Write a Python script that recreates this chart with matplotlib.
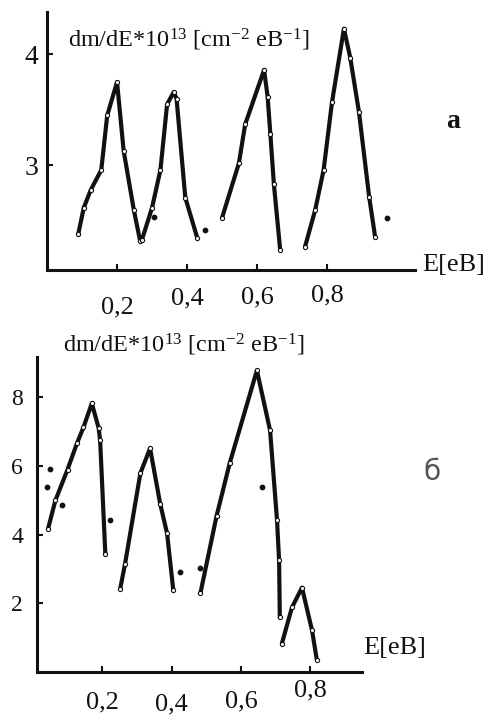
import matplotlib
matplotlib.use("Agg")
import matplotlib.pyplot as plt
import matplotlib.transforms as mtransforms

plt.rcParams['font.family'] = ['Liberation Serif', 'DejaVu Serif']
plt.rcParams['mathtext.fontset'] = 'custom'
plt.rcParams['mathtext.rm'] = 'Liberation Serif'
plt.rcParams['mathtext.it'] = 'Liberation Serif:italic'

# ---------------- data: panel a ----------------
a1_x = [0.089, 0.105, 0.125, 0.155, 0.172, 0.200, 0.219, 0.248, 0.266]
a1_y = [2.38, 2.62, 2.78, 2.96, 3.45, 3.75, 3.13, 2.60, 2.32]
a2_x = [0.271, 0.300, 0.324, 0.343, 0.362, 0.370, 0.395, 0.429]
a2_y = [2.33, 2.62, 2.96, 3.55, 3.66, 3.60, 2.71, 2.35]
a3_x = [0.500, 0.548, 0.566, 0.620, 0.630, 0.638, 0.648, 0.666]
a3_y = [2.53, 3.02, 3.37, 3.86, 3.62, 3.28, 2.83, 2.24]
a4_x = [0.737, 0.766, 0.790, 0.814, 0.848, 0.866, 0.891, 0.920, 0.937]
a4_y = [2.27, 2.60, 2.96, 3.57, 4.23, 3.97, 3.48, 2.72, 2.36]
a_extra_x = [0.305, 0.452, 0.971]
a_extra_y = [2.54, 2.42, 2.53]

# ---------------- data: panel б ----------------
b1_x = [0.044, 0.065, 0.100, 0.127, 0.146, 0.170, 0.190, 0.194, 0.209]
b1_y = [4.18, 5.00, 5.90, 6.66, 7.13, 7.83, 7.10, 6.75, 3.45]
b2_x = [0.252, 0.266, 0.310, 0.338, 0.367, 0.387, 0.405]
b2_y = [2.43, 3.16, 5.79, 6.52, 4.91, 4.04, 2.38]
b3_x = [0.483, 0.530, 0.568, 0.646, 0.684, 0.704, 0.710, 0.712]
b3_y = [2.29, 4.56, 6.10, 8.79, 7.04, 4.42, 3.25, 1.59]
b4_x = [0.718, 0.747, 0.776, 0.805, 0.819]
b4_y = [0.83, 1.88, 2.46, 1.21, 0.34]
b_extra_x = [0.040, 0.050, 0.084, 0.223, 0.425, 0.483, 0.661]
b_extra_y = [5.38, 5.93, 4.86, 4.42, 2.90, 3.02, 5.38]

xtick_vals = [0.2, 0.4, 0.6, 0.8]
xtick_labels = ["0,2", "0,4", "0,6", "0,8"]
a_ytick_vals = [3, 4]
a_ytick_labels = ["3", "4"]
b_ytick_vals = [2, 4, 6, 8]
b_ytick_labels = ["2", "4", "6", "8"]
ylabel_text = r"dm/dE*10$^{\mathrm{13}}$ [cm$^{\mathrm{-2}}$ eB$^{\mathrm{-1}}$]"

W, H = 490, 715
fig = plt.figure(figsize=(W / 100, H / 100), dpi=100)


def px_axes(left, right, top, bottom):
    return fig.add_axes([left / W, 1 - bottom / H, (right - left) / W, (bottom - top) / H])


def style(ax):
    for s in ['top', 'right']:
        ax.spines[s].set_visible(False)
    for s in ['left', 'bottom']:
        ax.spines[s].set_linewidth(2.2)
        ax.spines[s].set_color('#111111')
    ax.tick_params(direction='in', length=4, width=1.5, colors='#111111',
                   labelsize=17, pad=6)
    ax.patch.set_alpha(0)


line_kw = dict(color='#111111', lw=3.0, marker='o', ms=3.0,
               mfc='white', mec='#111111', mew=0.8, solid_capstyle='round')
extra_kw = dict(color='#111111', s=10, zorder=3)

# ---------------- panel a ----------------
axa = px_axes(47, 415, 12, 270)
style(axa)
axa.set_xlim(0, 1.051)
axa.set_ylim(2.06, 4.38)
for xs, ys in [(a1_x, a1_y), (a2_x, a2_y), (a3_x, a3_y), (a4_x, a4_y)]:
    axa.plot(xs, ys, **line_kw)
axa.scatter(a_extra_x, a_extra_y, **extra_kw)
axa.set_xticks(xtick_vals)
axa.set_xticklabels([])
axa.set_yticks(a_ytick_vals)
axa.set_yticklabels(a_ytick_labels, fontsize=20)
trans_a = mtransforms.blended_transform_factory(axa.transData, axa.transAxes)
a_lab_dy = [-0.145, -0.11, -0.105, -0.10]
for v, lab, dy in zip(xtick_vals, xtick_labels, a_lab_dy):
    axa.text(v, dy, lab, transform=trans_a, ha='center', va='center',
             fontsize=19, color='#111111')
fig.text(68 / W, 1 - 40 / H, ylabel_text, fontsize=17.5, ha='left', va='center',
         color='#111111')
fig.text(453 / W, 1 - 122 / H, "a", fontsize=20, fontweight='bold',
         ha='center', va='center', color='#111111')
fig.text(454 / W, 1 - 265 / H, "E[eB]", fontsize=19, ha='center', va='center',
         color='#111111')

# ---------------- panel б ----------------
axb = px_axes(37, 362, 357, 672)
style(axb)
axb.set_xlim(0.012, 0.949)
axb.set_ylim(0, 9.18)
for xs, ys in [(b1_x, b1_y), (b2_x, b2_y), (b3_x, b3_y), (b4_x, b4_y)]:
    axb.plot(xs, ys, **line_kw)
axb.scatter(b_extra_x, b_extra_y, **extra_kw)
axb.set_xticks(xtick_vals)
axb.set_xticklabels([])
axb.set_yticks(b_ytick_vals)
axb.set_yticklabels(b_ytick_labels, fontsize=17)
axb.tick_params(axis='y', pad=10)
trans_b = mtransforms.blended_transform_factory(axb.transData, axb.transAxes)
b_lab_dy = [-0.098, -0.104, -0.093, -0.058]
for v, lab, dy in zip(xtick_vals, xtick_labels, b_lab_dy):
    axb.text(v, dy, lab, transform=trans_b, ha='center', va='center',
             fontsize=19, color='#111111')
fig.text(63 / W, 1 - 345 / H, ylabel_text, fontsize=17.5, ha='left', va='center',
         color='#111111')
fig.text(432 / W, 1 - 472 / H, "б", fontsize=20, ha='center', va='center',
         color='#555555', family=['DejaVu Sans'])
fig.text(395 / W, 1 - 648 / H, "E[eB]", fontsize=19, ha='center', va='center',
         color='#111111')

fig.savefig("out.png", dpi=100)
